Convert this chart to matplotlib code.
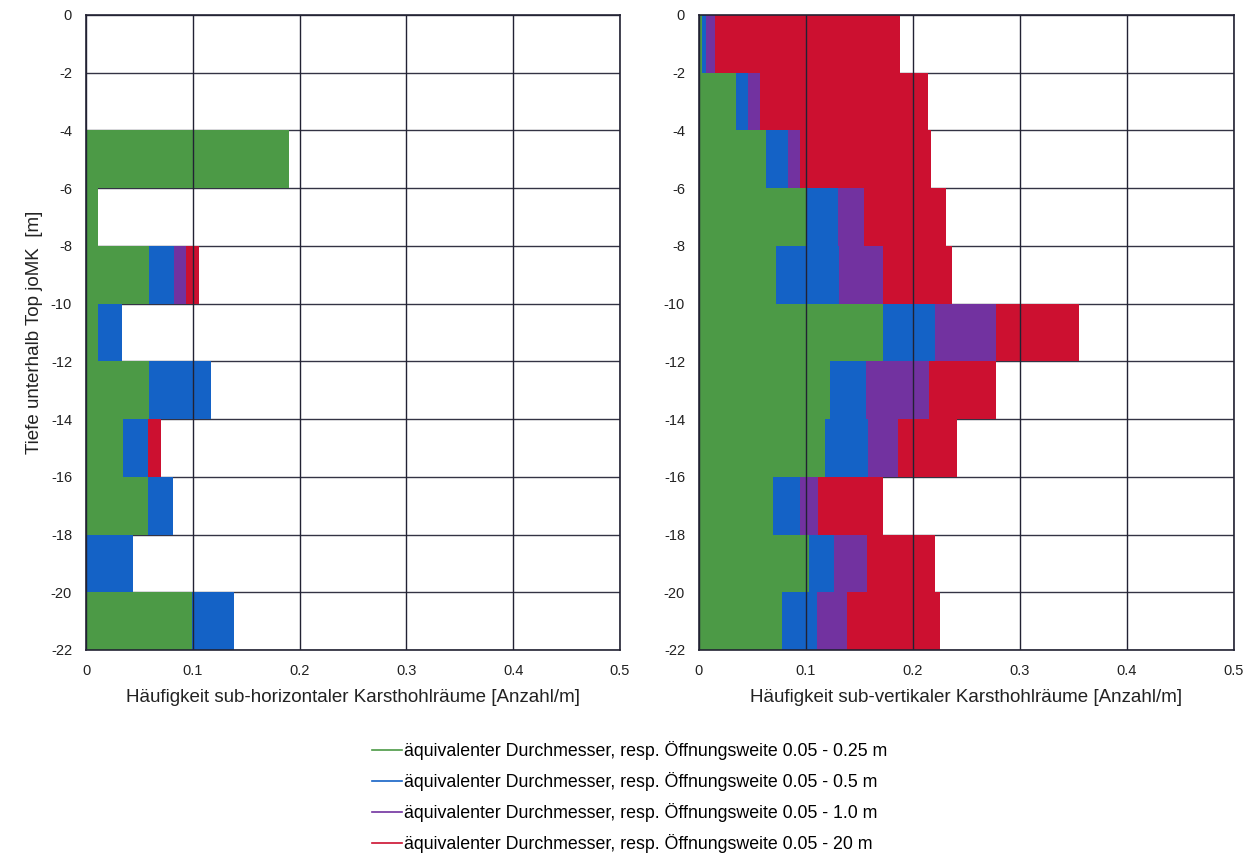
import numpy as np
import matplotlib
matplotlib.use("Agg")
import matplotlib.pyplot as plt
from matplotlib.lines import Line2D

plt.rcParams["font.family"] = ["Liberation Sans", "DejaVu Sans"]
plt.rcParams["axes.unicode_minus"] = False

# Depth bins (top of each 2 m interval)
depth_top = [0, -2, -4, -6, -8, -10, -12, -14, -16, -18, -20]
bin_height = 2

# Cumulative frequencies per class, sub-horizontal cavities [Anzahl/m]
horiz_025 = [0, 0, 0.190, 0.011, 0.059, 0.011, 0.059, 0.035, 0.058, 0.000, 0.099]
horiz_05 = [0, 0, 0.190, 0.011, 0.082, 0.034, 0.117, 0.058, 0.081, 0.044, 0.139]
horiz_10 = [0, 0, 0.190, 0.011, 0.094, 0.034, 0.117, 0.058, 0.081, 0.044, 0.139]
horiz_20 = [0, 0, 0.190, 0.011, 0.106, 0.034, 0.117, 0.070, 0.081, 0.044, 0.139]

# Cumulative frequencies per class, sub-vertical cavities [Anzahl/m]
vert_025 = [0.003, 0.035, 0.063, 0.100, 0.072, 0.172, 0.122, 0.118, 0.069, 0.103, 0.078]
vert_05 = [0.007, 0.046, 0.083, 0.130, 0.131, 0.221, 0.156, 0.158, 0.094, 0.126, 0.110]
vert_10 = [0.015, 0.057, 0.094, 0.154, 0.172, 0.278, 0.215, 0.186, 0.111, 0.157, 0.138]
vert_20 = [0.188, 0.214, 0.217, 0.231, 0.236, 0.355, 0.278, 0.241, 0.172, 0.221, 0.225]

class_labels = [
    "äquivalenter Durchmesser, resp. Öffnungsweite 0.05 - 0.25 m",
    "äquivalenter Durchmesser, resp. Öffnungsweite 0.05 - 0.5 m",
    "äquivalenter Durchmesser, resp. Öffnungsweite 0.05 - 1.0 m",
    "äquivalenter Durchmesser, resp. Öffnungsweite 0.05 - 20 m",
]
colors = ["#4c9a46", "#1462c6", "#7232a0", "#cc1030"]

x_ticks = [0, 0.1, 0.2, 0.3, 0.4, 0.5]
y_ticks = list(range(0, -23, -2))

fig = plt.figure(figsize=(12.52, 8.56), dpi=100)
ax1 = fig.add_axes([0.0687, 0.2407, 0.4265, 0.7418])
ax2 = fig.add_axes([0.5583, 0.2407, 0.4273, 0.7418])


def draw_panel(ax, series, xlabel):
    # widest class first so the narrower ones sit on top
    for vals, col in reversed(list(zip(series, colors))):
        ax.barh(depth_top, vals, height=-bin_height, align="edge",
                color=col, edgecolor="none", zorder=2)
    ax.set_xlim(0, 0.5)
    ax.set_ylim(-22, 0)
    ax.set_xticks(x_ticks)
    ax.set_xticklabels([f"{t:g}" for t in x_ticks])
    ax.set_yticks(y_ticks)
    ax.tick_params(length=0, labelsize=10.5, pad=10, labelcolor="#222222")
    # horizontal grid below the bars, vertical grid drawn over them
    for yv in ax.get_yticks():
        ax.axhline(yv, color="#333344", lw=1.0, zorder=1)
    for xv in ax.get_xticks():
        ax.axvline(xv, color="#222233", lw=1.0, zorder=3)
    for s in ax.spines.values():
        s.set_color("#222233")
        s.set_linewidth(1.2)
        s.set_zorder(4)
    ax.set_xlabel(xlabel, fontsize=13.5, color="#222222", labelpad=8)


draw_panel(ax1, [horiz_025, horiz_05, horiz_10, horiz_20],
           "Häufigkeit sub-horizontaler Karsthohlräume [Anzahl/m]")
draw_panel(ax2, [vert_025, vert_05, vert_10, vert_20],
           "Häufigkeit sub-vertikaler Karsthohlräume [Anzahl/m]")
ax1.set_ylabel("Tiefe unterhalb Top joMK  [m]", fontsize=13.5, color="#222222", labelpad=6)

handles = [Line2D([], [], color=c, lw=1.2) for c in colors]
fig.legend(handles, class_labels, loc="upper center", bbox_to_anchor=(0.503, 0.153),
           frameon=False, fontsize=12.8, handlelength=1.7, handletextpad=0.1,
           labelspacing=0.67)

fig.savefig("out.png", dpi=100)
